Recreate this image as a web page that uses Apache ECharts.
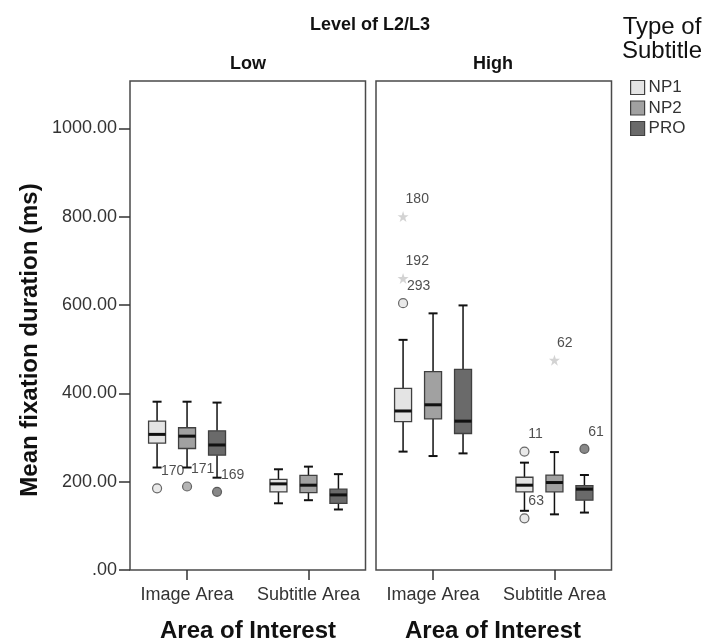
<!DOCTYPE html>
<html>
<head>
<meta charset="utf-8">
<script src="https://cdn.jsdelivr.net/npm/echarts@6/dist/echarts.min.js"></script>
<style>
  html, body { margin: 0; padding: 0; background: #fff; }
  #chart { width: 709px; height: 641px; }
</style>
</head>
<body>
<div id="chart"></div>
<script>
// Grouping
const levels = ['Low', 'High'];
const areas = ['Image Area', 'Subtitle Area'];
const subtitleTypes = ['NP1', 'NP2', 'PRO'];
const yTicks = [0, 200, 400, 600, 800, 1000];

// Five-number summaries per area: [lower whisker, Q1, median, Q3, upper whisker]
const lowNP1 = [[232, 287, 307, 337, 381], [151, 177, 195, 205, 228]];
const lowNP2 = [[232, 275, 303, 322, 381], [158, 175, 192, 214, 234]];
const lowPRO = [[209, 260, 283, 315, 379], [137, 151, 170, 183, 217]];
const highNP1 = [[268, 336, 360, 411, 521], [134, 177, 192, 210, 243]];
const highNP2 = [[258, 342, 374, 449, 581], [126, 177, 198, 215, 267]];
const highPRO = [[264, 309, 337, 454, 599], [130, 158, 183, 191, 215]];

// Outlying cases: [area index, subtitle type, value, case number, kind ('o' outlier, '*' extreme)]
const lowOutliers = [
  [0, 'NP1', 185, '170', 'o'],
  [0, 'NP2', 189, '171', 'o'],
  [0, 'PRO', 177, '169', 'o']
];
const highOutliers = [
  [0, 'NP1', 800, '180', '*'],
  [0, 'NP1', 660, '192', '*'],
  [0, 'NP1', 604, '293', 'o'],
  [1, 'NP1', 268, '11', 'o'],
  [1, 'NP1', 117, '63', 'o'],
  [1, 'NP2', 475, '62', '*'],
  [1, 'PRO', 274, '61', 'o']
];

const FONT = "'Liberation Sans', Arial, sans-serif";
const fills = { NP1: '#e4e4e4', NP2: '#a1a1a1', PRO: '#6a6a6a' };
const dodge = { NP1: -0.247, NP2: 0, PRO: 0.247 };
const BOX_HALF = 8.5;
const CAP_HALF = 4.5;
const STAR = 'path://M12 0L14.9 8.6L24 8.7L16.7 14.1L19.4 23L12 17.6L4.6 23L7.3 14.1L0 8.7L9.1 8.6Z';

const panels = [
  { level: levels[0], boxes: [lowNP1, lowNP2, lowPRO], outliers: lowOutliers, left: 130 },
  { level: levels[1], boxes: [highNP1, highNP2, highPRO], outliers: highOutliers, left: 376 }
];

function boxRenderer(type) {
  return function (params, api) {
    const x = api.value(0) + dodge[type];
    const lo = api.coord([x, api.value(1)]);
    const q1 = api.coord([x, api.value(2)]);
    const md = api.coord([x, api.value(3)]);
    const q3 = api.coord([x, api.value(4)]);
    const hi = api.coord([x, api.value(5)]);
    const cx = lo[0];
    const line = (x1, y1, x2, y2, w) => ({
      type: 'line',
      shape: { x1, y1, x2, y2 },
      style: { stroke: '#111', lineWidth: w }
    });
    return {
      type: 'group',
      children: [
        line(cx, hi[1], cx, q3[1], 1.5),
        line(cx, q1[1], cx, lo[1], 1.5),
        line(cx - CAP_HALF, hi[1], cx + CAP_HALF, hi[1], 2),
        line(cx - CAP_HALF, lo[1], cx + CAP_HALF, lo[1], 2),
        {
          type: 'rect',
          shape: { x: cx - BOX_HALF, y: q3[1], width: BOX_HALF * 2, height: q1[1] - q3[1] },
          style: { fill: fills[type], stroke: '#404040', lineWidth: 1.3 }
        },
        line(cx - BOX_HALF, md[1], cx + BOX_HALF, md[1], 3)
      ]
    };
  };
}

const grids = [], xAxes = [], yAxes = [], series = [];
panels.forEach((p, pi) => {
  grids.push({
    left: p.left, top: 81, width: 235.5, height: 489,
    show: true, borderColor: '#4a4a4a', borderWidth: 1.5, backgroundColor: 'transparent'
  });
  xAxes.push({
    type: 'value', gridIndex: pi, min: -0.47, max: 1.47,
    splitLine: { show: false },
    axisLine: { show: false, onZero: false },
    axisTick: { show: true, customValues: [0, 1], length: 10, inside: false,
                lineStyle: { color: '#333', width: 1.5 } },
    axisLabel: { show: true, customValues: [0, 1], margin: 16,
                 formatter: v => areas[Math.round(v)],
                 fontFamily: FONT, fontSize: 18, color: '#333' }
  });
  yAxes.push({
    type: 'value', gridIndex: pi, min: 0, max: 1107,
    splitLine: { show: false },
    axisLine: { show: false, onZero: false },
    axisTick: { show: pi === 0, customValues: yTicks, length: 11,
                lineStyle: { color: '#333', width: 1.5 } },
    axisLabel: { show: pi === 0, customValues: yTicks, margin: 13,
                 formatter: v => (v === 0 ? '.00' : v.toFixed(2)),
                 fontFamily: FONT, fontSize: 18, color: '#333' }
  });
  subtitleTypes.forEach((t, ti) => {
    series.push({
      name: t,
      type: 'custom',
      xAxisIndex: pi, yAxisIndex: pi,
      itemStyle: { color: fills[t], borderColor: '#404040', borderWidth: 1.2 },
      encode: { x: 0, y: [1, 2, 3, 4, 5] },
      data: p.boxes[ti].map((s, ai) => [ai].concat(s)),
      renderItem: boxRenderer(t),
      z: 2
    });
  });
  series.push({
    name: 'Outliers ' + p.level,
    type: 'scatter',
    xAxisIndex: pi, yAxisIndex: pi,
    z: 5,
    data: p.outliers.map(o => {
      const star = o[4] === '*';
      return {
        value: [o[0] + dodge[o[1]], o[2]],
        symbol: star ? STAR : 'circle',
        symbolSize: star ? 11 : 9,
        itemStyle: star
          ? { color: '#c8c8c8', borderWidth: 0 }
          : { color: fills[o[1]], borderColor: '#444', borderWidth: 1.2 },
        label: {
          show: true, formatter: o[3],
          position: star ? [8, -12] : [9, -12],
          align: 'left', verticalAlign: 'middle',
          fontFamily: FONT, fontSize: 14, color: '#222'
        }
      };
    })
  });
});

const chart = echarts.init(document.getElementById('chart'), null, { renderer: 'canvas' });
chart.setOption({
  animation: false,
  backgroundColor: '#fff',
  grid: grids,
  xAxis: xAxes,
  yAxis: yAxes,
  series: series,
  legend: {
    data: subtitleTypes,
    orient: 'vertical',
    left: 630, top: 79,
    padding: 0,
    itemWidth: 14, itemHeight: 14, itemGap: 3.5,
    icon: 'rect',
    selectedMode: false,
    itemStyle: { borderColor: '#404040', borderWidth: 1.2 },
    textStyle: { fontFamily: FONT, fontSize: 17, color: '#333', padding: [0, 0, 0, -1] }
  },
  graphic: [
    { type: 'text', x: 370, y: 25, style: { text: 'Level of L2/L3', font: 'bold 18px ' + FONT, fill: '#111', align: 'center', verticalAlign: 'middle' } },
    { type: 'text', x: 248, y: 64, style: { text: levels[0], font: 'bold 18px ' + FONT, fill: '#111', align: 'center', verticalAlign: 'middle' } },
    { type: 'text', x: 493, y: 64, style: { text: levels[1], font: 'bold 18px ' + FONT, fill: '#111', align: 'center', verticalAlign: 'middle' } },
    { type: 'text', x: 662, y: 27, style: { text: 'Type of', font: '24px ' + FONT, fill: '#111', align: 'center', verticalAlign: 'middle' } },
    { type: 'text', x: 662, y: 51, style: { text: 'Subtitle', font: '24px ' + FONT, fill: '#111', align: 'center', verticalAlign: 'middle' } },
    { type: 'text', x: 248, y: 631, style: { text: 'Area of Interest', font: 'bold 24px ' + FONT, fill: '#111', align: 'center', verticalAlign: 'middle' } },
    { type: 'text', x: 493, y: 631, style: { text: 'Area of Interest', font: 'bold 24px ' + FONT, fill: '#111', align: 'center', verticalAlign: 'middle' } },
    { type: 'text', x: 30, y: 340, rotation: Math.PI / 2, style: { text: 'Mean fixation duration (ms)', font: 'bold 24px ' + FONT, fill: '#111', align: 'center', verticalAlign: 'middle' } }
  ]
});
</script>
</body>
</html>
